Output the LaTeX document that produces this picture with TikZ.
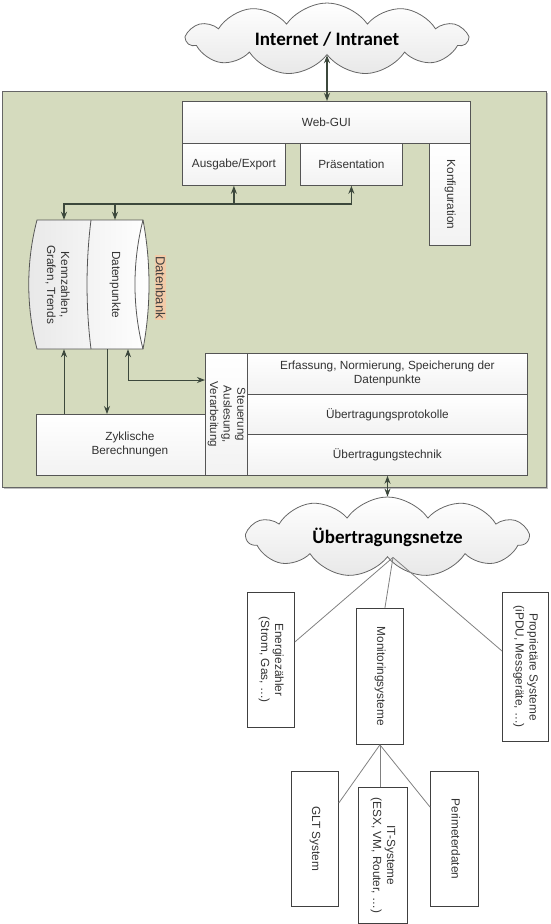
\documentclass[tikz,border=0pt]{standalone}
\usepackage{fontspec}
\setmainfont{Liberation Sans}
\newfontfamily\cloudfont{Carlito}
\usetikzlibrary{shapes.symbols,arrows.meta,calc,shadows}
\definecolor{greenbg}{RGB}{213,219,190}
\definecolor{boxline}{RGB}{85,85,85}
\definecolor{arrowc}{RGB}{60,72,60}
\definecolor{dbfill}{RGB}{243,203,168}
\newcommand\rottxt[1]{\rotatebox{-90}{\begin{tabular}{@{}c@{}}#1\end{tabular}}}
\begin{document}
\begin{tikzpicture}[x=1pt,y=-1pt,
  txt/.style={font=\fontsize{11.8}{14}\selectfont, text=black!80},
  box/.style={draw=boxline, line width=0.8pt, txt, inner sep=0pt, anchor=north west,
    top color=white, bottom color=gray!10, align=center},
  wbox/.style={draw=black!75, line width=0.8pt, fill=white, txt, inner sep=0pt, anchor=north west},
  cloudn/.style={shape=cloud, cloud puffs=11, cloud puff arc=110, cloud ignores aspect,
    draw=black!60, line width=0.8pt, top color=white, bottom color=gray!18,
    font=\cloudfont\bfseries\fontsize{19}{22}\selectfont, inner sep=0pt},
  arr/.style={draw=arrowc, line width=1.3pt, -{Stealth[length=8pt,width=6pt]}},
  darr/.style={draw=arrowc, line width=1.3pt, {Stealth[length=8pt,width=6pt]}-{Stealth[length=8pt,width=6pt]}},
  link/.style={draw=gray, line width=0.8pt},
]
\useasboundingbox (0,0) rectangle (550,924);

% clouds
\node[cloudn, minimum width=280pt, minimum height=72pt] (inet) at (327,39) {Internet / Intranet};

% main green area
\node[draw=black!60, line width=0.8pt, fill=greenbg, minimum width=544pt, minimum height=396pt,
  anchor=north west, inner sep=0pt,
  drop shadow={shadow xshift=1.5pt, shadow yshift=-1.5pt, fill=black, opacity=0.25}] (main) at (2,91) {};

% Web GUI
\node[box, minimum width=288pt, minimum height=42pt] (webgui) at (182,101) {Web-GUI};
\node[box, minimum width=103pt, minimum height=42pt] (ausg) at (182,143) {Ausgabe/Export};
\node[box, minimum width=102pt, minimum height=42pt] (pres) at (300,143) {Präsentation};
\node[box, minimum width=41pt, minimum height=102pt] (konf) at (429,143) {\rottxt{Konfiguration}};

% database cylinder
\path[draw=boxline, line width=0.8pt, left color=gray!18, right color=white]
  (37,220) -- (143,220) .. controls (151,262) and (151,307) .. (143,349)
  -- (37,349) .. controls (26,307) and (26,262) .. (37,220) -- cycle;
\draw[boxline, line width=0.8pt] (143,220) .. controls (132.3,262) and (132.3,307) .. (143,349);
\draw[boxline, line width=0.8pt] (91,220) .. controls (85.7,262) and (85.7,307) .. (91,349);
\node[minimum width=54pt, minimum height=129pt, inner sep=0pt,
  label={[txt, xshift=-7pt]center:\rottxt{Kennzahlen,\\Grafen, Trends}}] (kpi) at (64,284.5) {};
\node[txt, minimum width=44pt, minimum height=129pt, inner sep=0pt] (dp) at (115,284.5) {\rottxt{Datenpunkte}};
\node[fill=dbfill, inner sep=0.6pt, font=\fontsize{13}{15}\selectfont, text=black!75] (dblabel) at (160.5,287.5) {\rotatebox{-90}{Datenbank}};

% lower block
\node[box, minimum width=169pt, minimum height=61pt,
  label={[txt, align=center, xshift=9pt]center:Zyklische\\Berechnungen}] (zyk) at (36,414) {};
\node[box, minimum width=42pt, minimum height=122pt, font=\fontsize{11.5}{13.6}\selectfont] (steu) at (205,353) {\rottxt{Steuerung\\Auslesung,\\Verarbeitung}};
\node[box, minimum width=280pt, minimum height=41pt] (erf) at (247,353) {Erfassung, Normierung, Speicherung der\\Datenpunkte};
\node[box, minimum width=280pt, minimum height=40pt] (prot) at (247,394) {Übertragungsprotokolle};
\node[box, minimum width=280pt, minimum height=41pt] (utech) at (247,434) {Übertragungstechnik};

\node[cloudn, minimum width=281pt, minimum height=80pt] (unet) at (387.5,537) {Übertragungsnetze};

% source boxes
\node[wbox, minimum width=47pt, minimum height=135pt] (energ) at (247,592) {\rottxt{Energiezähler\\(Strom, Gas, …)}};
\node[wbox, minimum width=47pt, minimum height=136pt] (mon) at (356,608) {\rottxt{Monitoringsysteme}};
\node[wbox, minimum width=46pt, minimum height=149pt] (prop) at (502,592) {\rottxt{Proprietäre Systeme\\(iPDU, Messgeräte, …)}};
\node[wbox, minimum width=47pt, minimum height=135pt] (glt) at (291,771) {\rottxt{GLT System}};
\node[wbox, minimum width=49pt, minimum height=136pt] (its) at (358,787) {\rottxt{IT-Systeme\\(ESX, VM, Router, …)}};
\node[wbox, minimum width=48pt, minimum height=135pt] (peri) at (430,771) {\rottxt{Perimeterdaten}};

% connectors
\draw[darr] (inet.south) -- (inet.south |- webgui.north);
\coordinate (bus) at (0,204);
\draw[darr] (kpi.north) |- (pres.south |- bus) -- (pres.south);
\draw[arr] (ausg.south |- bus) -- (ausg.south);
\draw[arr] (dp.north |- bus) -- (dp.north);

\draw[arr, line width=1pt] (kpi.south |- zyk.north) -- (kpi.south);
\coordinate (d1) at ($(dp.south)+(-8,0)$);
\draw[arr, line width=1pt] (d1) -- (d1 |- zyk.north);
\coordinate (d2) at ($(dp.south)+(13,0)$);
\draw[darr, line width=1pt] (d2) |- ($(steu.north west)+(0,27)$);

\draw[darr, line width=1pt] (unet.north |- utech.south) -- (unet.north);

\coordinate (hub) at ($(unet.south)+(5.5,0)$);
\draw[link] (hub) -- ($(energ.north east)+(0,50)$);
\draw[link] (hub) -- ($(mon.north)+(5,0)$);
\draw[link] (hub) -- ($(prop.north west)+(0,59)$);
\draw[link] (mon.south) -- ($(glt.north east)+(0,32)$);
\draw[link] (mon.south) -- (mon.south |- its.north);
\draw[link] (mon.south) -- ($(peri.north west)+(0,36)$);
\end{tikzpicture}
\end{document}
